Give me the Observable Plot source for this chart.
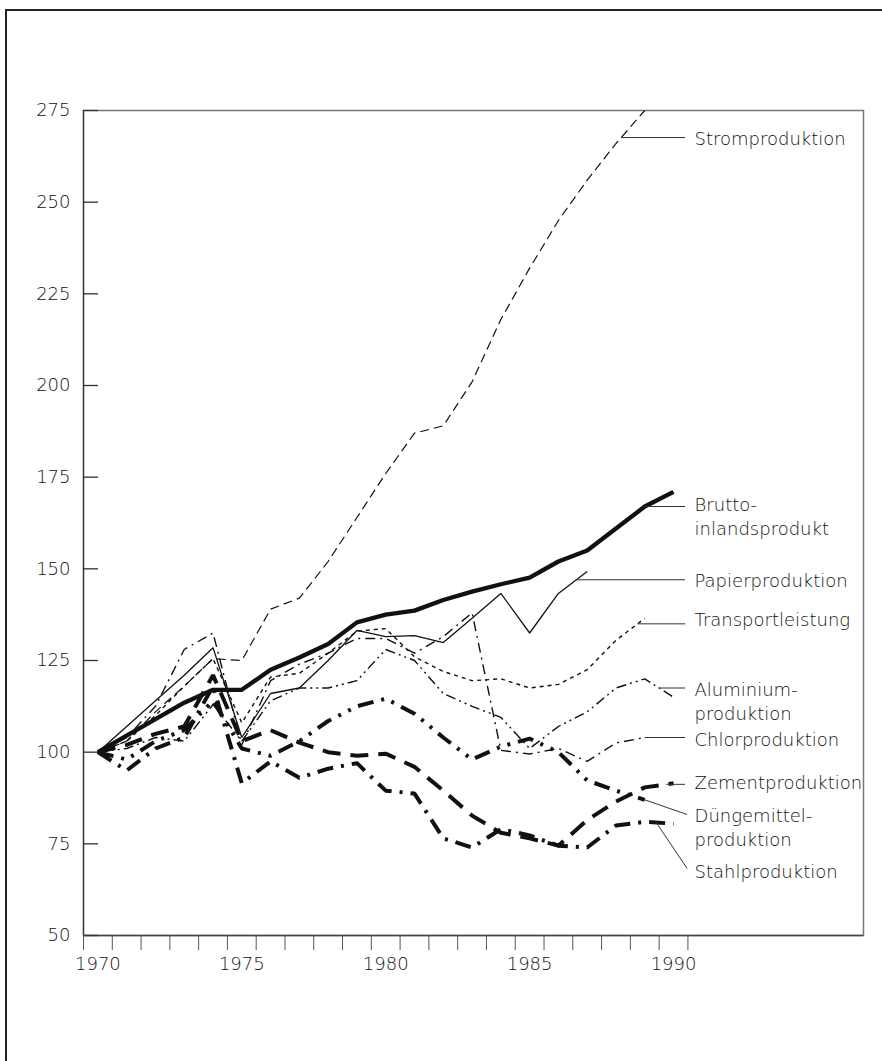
<!DOCTYPE html>
<html><head><meta charset="utf-8">
<script src="https://cdn.jsdelivr.net/npm/d3@7"></script>
<script src="https://cdn.jsdelivr.net/npm/@observablehq/plot@0.6"></script>
<style>
html,body{margin:0;padding:0;background:#fff;overflow:hidden;}
#wrap{position:relative;width:882px;height:1061px;}
#outer{position:absolute;left:5px;top:9px;width:1000px;height:1200px;border:2px solid #222;box-sizing:border-box;}
#chart{position:absolute;left:0;top:0;}
#chart svg text{font-weight:300;}
</style></head><body>
<div id="wrap"><div id="outer"></div><div id="chart"></div></div>
<script>
// ---- data ----
const years = d3.range(1970, 1991);
const stromproduktion   = [100,103,111,118,125.5,125,139,142,152,164,176,187,189,201,218,232,245,256,266,275];
const bruttoinlandsprodukt = [100,104.5,109,113.5,117,117,122.5,125.8,129.5,135.4,137.5,138.6,141.5,143.8,145.8,147.6,152,155,161,167,171];
const papierproduktion  = [100,107,114,121,128.5,104,116,117.5,125,133.2,131.5,131.8,129.9,136.5,143.3,132.5,143.3,149.3];
const transportleistung = [100,103,110,118,125.5,108,120.5,121.5,127,133,133.7,126,122,119.5,120,117.5,118.5,122.5,130.5,136.5];
const aluminiumproduktion = [100,101,104,103,113,103,114,117.5,117.5,119.5,128,125,116,112.5,109.5,101,107,111,117.5,120,115];
const chlorproduktion   = [100,104,112.5,128,132.5,102,119.5,124,127,131,131,127,131.5,138,100.5,99.5,101,97.5,102.5,104];
const zementproduktion  = [100,102,105,107,121,103,106,102.6,100,99,99.6,96,89.5,82.7,78,76.5,74.5,81.5,86.5,90.4,91.5];
const duengemittelproduktion = [100,98,103,106,114,101,99,103,108.5,112.5,114.6,110.5,104,98,101.5,103.7,100,92.3,89.5,87];
const stahlproduktion   = [100,95,101,104,118,91.5,97.5,93,95.5,97,89.5,88.7,76.5,74,79,77.3,74.5,74,80,81,80.5];

const seriesNames = ["Strom","Brutto","Papier","Transport","Aluminium","Chlor","Zement","Duenge","Stahl"];
const seriesValues = [stromproduktion, bruttoinlandsprodukt, papierproduktion, transportleistung,
  aluminiumproduktion, chlorproduktion, zementproduktion, duengemittelproduktion, stahlproduktion];
const labelTexts = ["Stromproduktion","Brutto-\ninlandsprodukt","Papierproduktion","Transportleistung",
  "Aluminium-\nproduktion","Chlorproduktion","Zementproduktion","Düngemittel-\nproduktion","Stahlproduktion"];
const labelValues = [267.6,164.5,147.1,136.5,114.1,103.7,92,79.9,67.7];
const leaderAnchorYears = [1988.18,1989,1986.62,1988.75,1989.5,1989,1989.75,1989,1989.4];
const leaderEndValues = [null,null,null,null,null,null,null,83,68.3];

const yTicks = [50,75,100,125,150,175,200,225,250,275];
const xTickPositions = d3.range(1969.5, 1991, 1);
const xTickLabels = [1970,1975,1980,1985,1990];

// ---- styles ----
const styles = {
  Strom:     {strokeWidth:1.2, strokeDasharray:"9,5"},
  Brutto:    {strokeWidth:4.3},
  Papier:    {strokeWidth:1.3},
  Transport: {strokeWidth:1.4, strokeDasharray:"4,4"},
  Aluminium: {strokeWidth:1.4, strokeDasharray:"10,4,2,4,2,4"},
  Chlor:     {strokeWidth:1.4, strokeDasharray:"10,5,2,5"},
  Zement:    {strokeWidth:4, strokeDasharray:"18,10"},
  Duenge:    {strokeWidth:4, strokeDasharray:"16,8,3,8,3,8"},
  Stahl:     {strokeWidth:4, strokeDasharray:"16,8,3,8"}
};

// ---- build tables ----
const rows = [];
seriesNames.forEach((s, i) => seriesValues[i].forEach((v, j) => rows.push({series: s, year: years[j], value: v})));
function interp(vals, yr) {
  const i = Math.floor(yr - 1970), f = yr - 1970 - i;
  if (i + 1 >= vals.length) return vals[vals.length - 1];
  return vals[i] + (vals[i + 1] - vals[i]) * f;
}
const labelX = 1990.73, leaderEndX = 1990.4;
const leaders = seriesNames.map((s, i) => {
  const y1 = interp(seriesValues[i], leaderAnchorYears[i]);
  return {x1: leaderAnchorYears[i], y1, x2: i >= 7 ? 1990.47 : leaderEndX, y2: leaderEndValues[i] ?? y1};
});
const labels = seriesNames.map((s, i) => ({text: labelTexts[i], y: labelValues[i]}));

const W = 882, H = 1061, mL = 83, mR = 19, mT = 110, mB = 126;
const plotW = W - mL - mR;

const marks = [
  Plot.frame({stroke:"#777", strokeWidth:1.5}),
  Plot.ruleX([1969.5], {stroke:"#333", strokeWidth:1.2}),
  Plot.ruleY([50], {stroke:"#444", strokeWidth:1.5}),
  Plot.ruleY(yTicks, {y: d => d, stroke:"#333", strokeWidth:1.3, insetRight: plotW - 15}),
  Plot.axisY(yTicks, {tickSize:0, tickPadding:13, fontSize:18, tickFormat: d => String(d)}),
  Plot.axisX(xTickPositions, {tickSize:15, tickFormat: () => "", stroke:"#555"}),
  Plot.axisX(xTickLabels, {tickSize:0, tickPadding:22, fontSize:18, tickFormat: d => String(d)})
];
seriesNames.forEach(s => {
  marks.push(Plot.line(rows.filter(r => r.series === s), {
    x:"year", y:"value", stroke:"#111", strokeLinejoin:"miter", strokeLinecap:"butt", ...styles[s]
  }));
});
marks.push(Plot.link(leaders, {x1:"x1", y1:"y1", x2:"x2", y2:"y2", stroke:"#333", strokeWidth:1}));
marks.push(Plot.text(labels, {x: () => labelX, y:"y", text:"text", textAnchor:"start",
  lineAnchor:"middle", lineHeight:1.333, fontSize:18, fill:"#111"}));

const chart = Plot.plot({
  width: W, height: H,
  marginLeft: mL, marginRight: mR, marginTop: mT, marginBottom: mB,
  style: {fontFamily: "DejaVu Sans", fontSize: "18px", color: "#111", background: "transparent"},
  x: {domain: [1969.5, 1996.6]},
  y: {domain: [50, 275]},
  marks
});
document.getElementById("chart").appendChild(chart);
</script>
</body></html>
